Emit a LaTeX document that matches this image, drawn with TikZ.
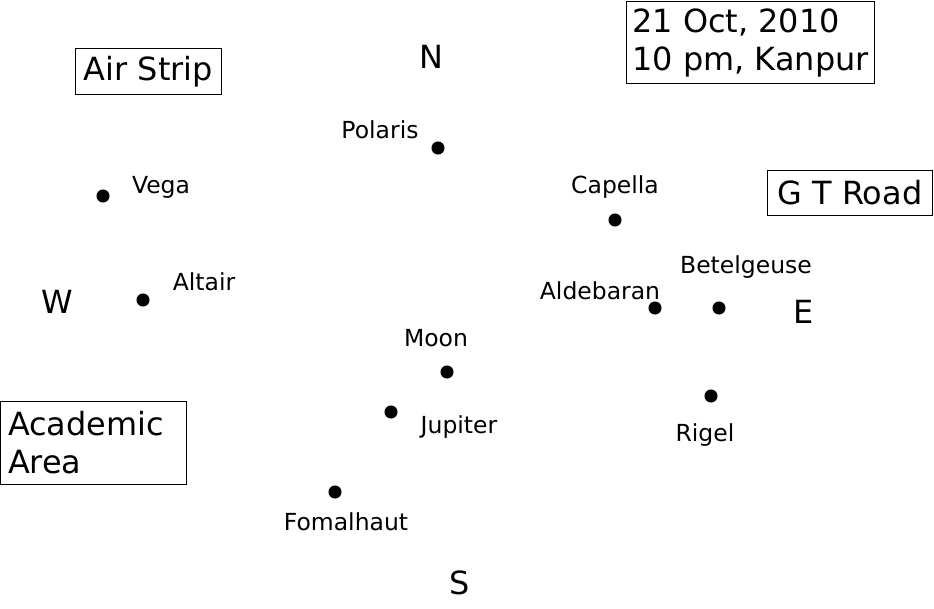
\documentclass[tikz,border=0pt]{standalone}
\usepackage{fontspec}
\setmainfont{DejaVu Sans}
\usepackage{tikz}
\usetikzlibrary{positioning}

\begin{document}
\begin{tikzpicture}[x=0.025cm,y=-0.025cm,
  every node/.style={font=\fontsize{22.7}{27}\selectfont,inner sep=0pt},
  star/.style={circle,fill=black,minimum size=9.3pt},
  starname/.style={font=\fontsize{16.7}{20}\selectfont},
  place/.style={draw,line width=0.7pt,inner sep=5pt,align=left}]
\useasboundingbox (0,0) rectangle (934,608);
% compass points
\node (n) at (431,57) {N};
\node (w) at (57,302) {W};
\node (e) at (804,312) {E};
\node (s) at (460,583) {S};
% landmarks
\node[place,minimum width=104.5pt,minimum height=33.4pt] (air) at (148.5,71.5) {Air Strip};
\node[place,inner xsep=2pt,minimum width=177pt,minimum height=59pt] (date) at (750.5,42.5) {21 Oct, 2010\\10 pm, Kanpur};
\node[place,minimum width=118pt,minimum height=32pt] (road) at (850,192.5) {G T Road};
\node[place,text width=121.6pt,minimum height=59pt] (acad) at (93.5,442.5) {Academic\\Area};
% stars
\node[star] (polaris) at (438,148) {};
\node[star] (vega) at (103,196) {};
\node[star] (altair) at (143,300) {};
\node[star] (capella) at (615,220) {};
\node[star] (aldebaran) at (655,308) {};
\node[star] (betelgeuse) at (719,308) {};
\node[star] (moon) at (447,372) {};
\node[star] (jupiter) at (391,412) {};
\node[star] (rigel) at (711,396) {};
\node[star] (fomalhaut) at (335,492) {};
\node[starname] (lpolaris) at (380,130) {Polaris};
\node[starname] (lvega) at (161,187) {Vega};
\node[starname] (laltair) at (204,282) {Altair};
\node[starname] (lcapella) at (615,187) {Capella};
\node[starname] (laldebaran) at (600,291) {Aldebaran};
\node[starname] (lbetelgeuse) at (746,267) {Betelgeuse};
\node[starname] (lmoon) at (436,338) {Moon};
\node[starname] (ljupiter) at (459,427) {Jupiter};
\node[starname] (lrigel) at (705,435) {Rigel};
\node[starname] (lfomalhaut) at (346,522) {Fomalhaut};
\end{tikzpicture}
\end{document}
